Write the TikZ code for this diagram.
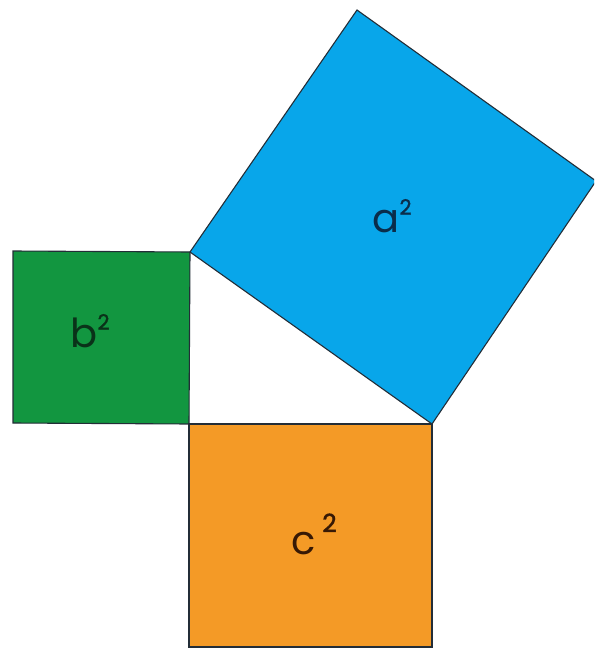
\documentclass[tikz,border=0pt]{standalone}
\usepackage{fontspec}
\setmainfont{Poppins}
\definecolor{sqblue}{RGB}{8,166,234}
\definecolor{sqgreen}{RGB}{18,150,64}
\definecolor{sqorange}{RGB}{244,154,38}
\definecolor{edge}{RGB}{35,45,55}
\definecolor{tblue}{RGB}{10,45,75}
\definecolor{tgreen}{RGB}{10,50,25}
\definecolor{torange}{RGB}{55,25,5}
\tikzset{
  sq/.style={draw=edge, line width=1.1pt, line join=miter},
  lbl/.style={inner sep=0pt, font=\fontsize{40}{40}\selectfont}
}
\newcommand{\supnum}[1]{\raisebox{0.45em}{\fontsize{21}{21}\selectfont\addfontfeature{FakeBold=1.5}#1}}
\begin{document}
\begin{tikzpicture}[x=1pt,y=-1pt]
\useasboundingbox (0,0) rectangle (594,650);
\begin{scope}
\clip (0,0) rectangle (594,650);
% triangle corners
\coordinate (R) at (189,424);
\coordinate (T) at (190,252);
\coordinate (B) at (432,424);
% blue square on hypotenuse
\coordinate (BT) at (357,10);
\coordinate (BR) at (596,181);
\path[sq, fill=sqblue] (T) -- (B) -- (BR) -- (BT) -- cycle;
% green square
\coordinate (G1) at (13,251);
\coordinate (G2) at (13,423);
\path[sq, fill=sqgreen] (G1) -- (T) -- (R) -- (G2) -- cycle;
% orange square
\coordinate (O1) at (189,647);
\coordinate (O2) at (432,647);
\path[sq, fill=sqorange] (R) -- (B) -- (O2) -- (O1) -- cycle;
\end{scope}
% labels
\node[lbl, text=tblue] (la) at (392,216) {a\supnum{2}};
\node[lbl, text=tgreen] (lb) at (90,331) {b\supnum{2}};
\node[lbl, text=torange] (lc) at (314,534) {c\,\raisebox{0.55em}{\fontsize{25}{25}\selectfont\addfontfeature{FakeBold=1.5}2}};
\end{tikzpicture}
\end{document}
